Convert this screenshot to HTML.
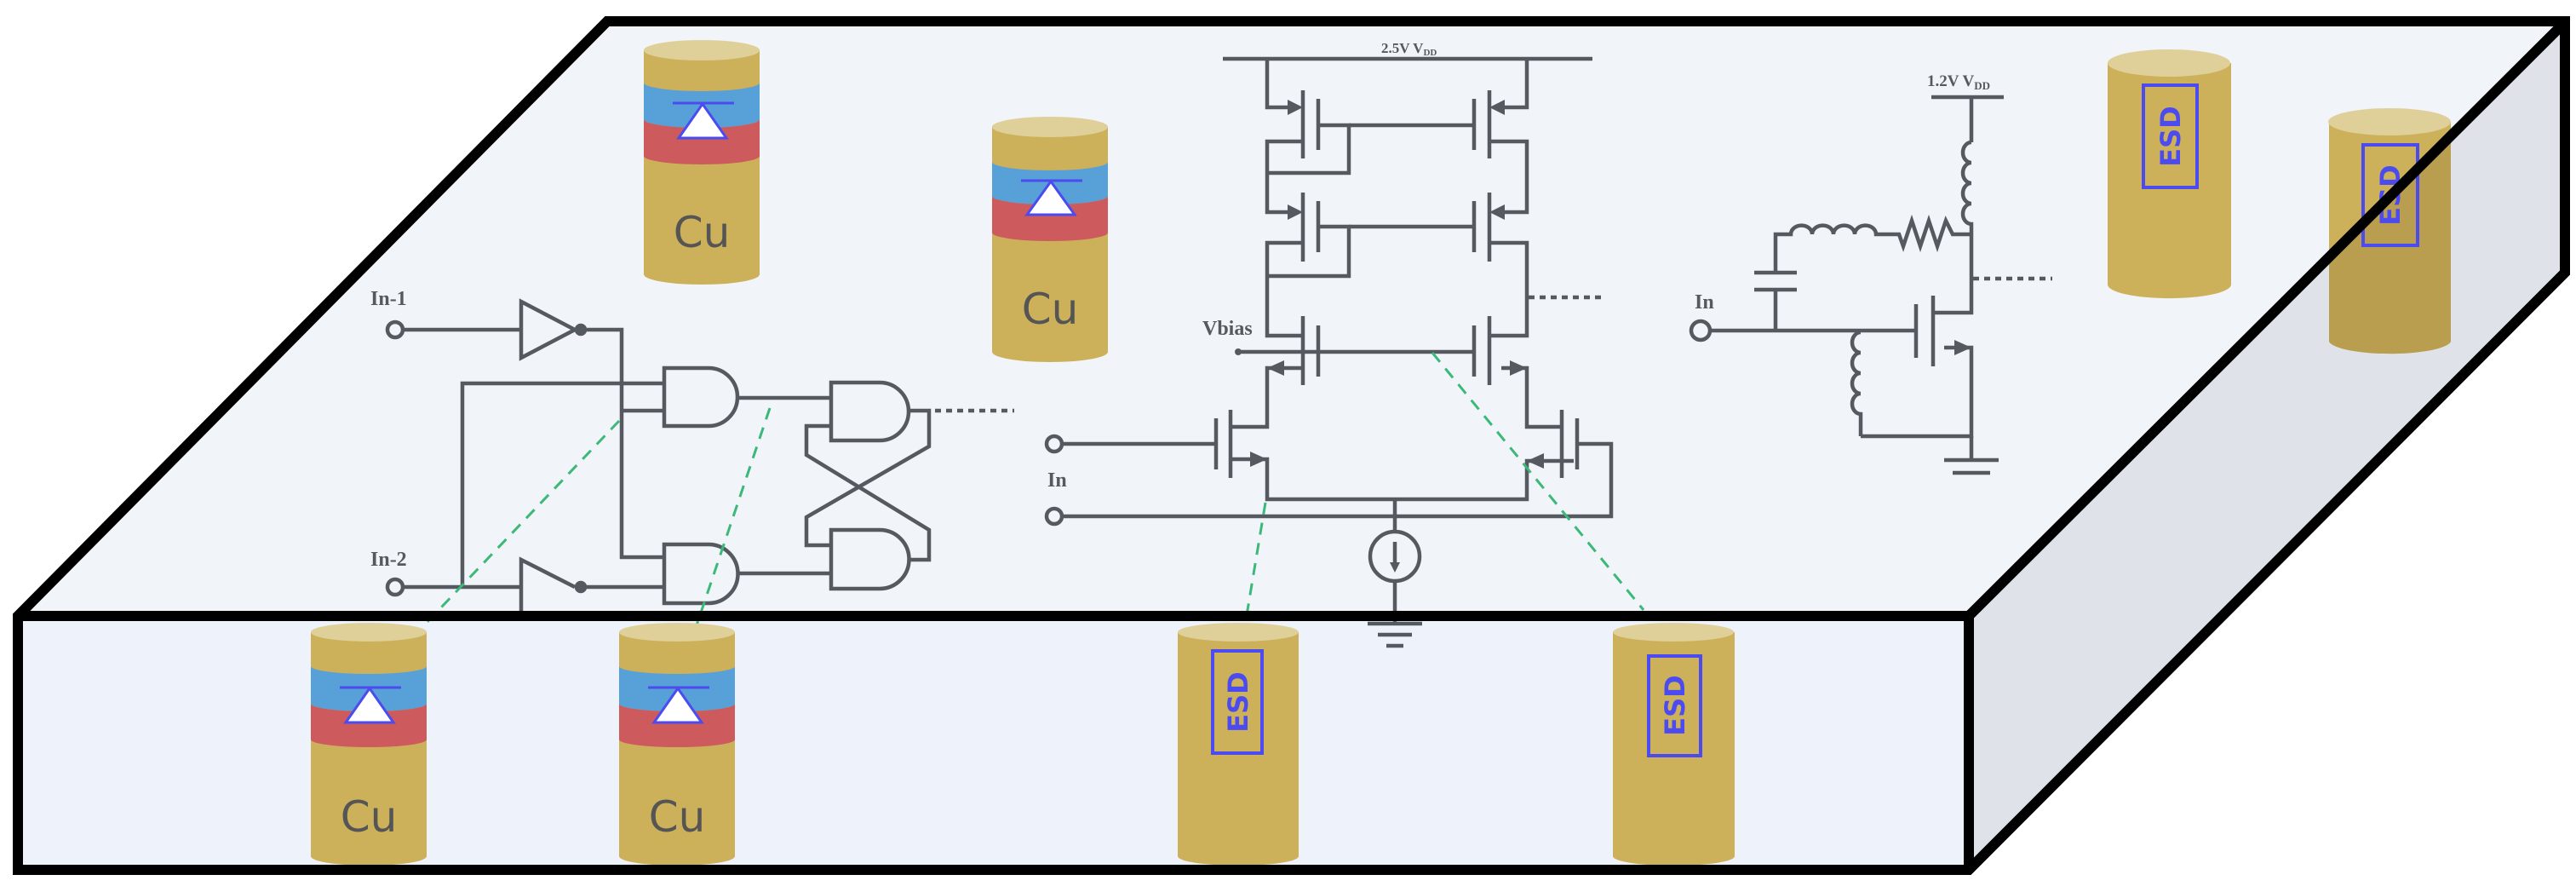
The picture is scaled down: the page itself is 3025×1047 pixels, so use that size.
<!DOCTYPE html>
<html><head><meta charset="utf-8"><style>html,body{margin:0;padding:0;background:#fff}svg{display:block}</style></head>
<body>
<svg width="3025" height="1047" viewBox="0 0 3025 1047" xmlns="http://www.w3.org/2000/svg">
<defs>
<clipPath id="side"><polygon points="3012,28 3012,320 2312,1021 2312,723"/></clipPath>
</defs>
<!-- faces -->
<polygon points="713,25 3012,25 2312,723 21,723" fill="#f1f4f9"/>
<rect x="21" y="723" width="2291" height="298" fill="#eef2fa"/>
<polygon points="3012,28 3012,320 2312,1021 2312,723" fill="#dfe2e8"/>

<g fill="none" stroke="#555a60" stroke-width="4.5" stroke-linejoin="miter">
<!-- ===== Logic circuit ===== -->
<circle cx="464" cy="387" r="9"/>
<line x1="473" y1="387" x2="612" y2="387"/>
<polygon points="612,354 612,420 675,387"/>
<circle cx="682" cy="387" r="5" fill="#555a60"/>
<polyline points="687,387 730,387 730,654 780,654"/>
<polyline points="730,482 780,482"/>
<polyline points="780,450 543,450 543,689"/>
<path d="M780,432 H832 A34,34 0 0 1 832,500 H780 Z"/>
<path d="M780,639 H832 A34.5,34.5 0 0 1 832,708 H780 Z"/>
<line x1="866" y1="467" x2="976" y2="467"/>
<line x1="866" y1="673" x2="976" y2="673"/>
<path d="M976,449 H1033 A34,34 0 0 1 1033,517 H976 Z"/>
<path d="M976,622 H1033 A34.5,34.5 0 0 1 1033,691 H976 Z"/>
<polyline points="1067,482 1091,482 1091,524 947,607 947,640 976,640"/>
<polyline points="1067,657 1091,657 1091,622 947,534 947,500 976,500"/>
<line x1="1098" y1="482" x2="1191" y2="482" stroke-dasharray="7,6"/>
<circle cx="464" cy="689" r="9"/>
<line x1="473" y1="689" x2="612" y2="689"/>
<polyline points="612,717 612,657 675,689"/>
<circle cx="682" cy="689" r="5" fill="#555a60"/>
<line x1="687" y1="689" x2="780" y2="689"/>

<!-- ===== Analog diff amp ===== -->
<line x1="1436" y1="69" x2="1870" y2="69"/>
<!-- left column -->
<polyline points="1488,69 1488,126 1518,126"/>
<line x1="1530" y1="106" x2="1530" y2="186"/>
<line x1="1548" y1="116" x2="1548" y2="176"/>
<polyline points="1530,166 1488,166 1488,249 1518,249"/>
<polyline points="1548,147 1584,147 1584,203 1488,203"/>
<line x1="1584" y1="147" x2="1731" y2="147"/>
<line x1="1530" y1="226" x2="1530" y2="307"/>
<line x1="1548" y1="236" x2="1548" y2="296"/>
<polyline points="1530,285 1488,285 1488,394 1530,394"/>
<polyline points="1548,266 1584,266 1584,324 1488,324"/>
<line x1="1584" y1="266" x2="1731" y2="266"/>
<line x1="1530" y1="371" x2="1530" y2="452"/>
<line x1="1548" y1="382" x2="1548" y2="442"/>
<line x1="1454" y1="413" x2="1731" y2="413"/>
<polyline points="1530,432 1488,432 1488,501 1445,501"/>
<!-- right column -->
<polyline points="1793,69 1793,126 1763,126"/>
<line x1="1749" y1="106" x2="1749" y2="186"/>
<line x1="1731" y1="116" x2="1731" y2="176"/>
<polyline points="1749,166 1793,166 1793,249 1763,249"/>
<line x1="1749" y1="226" x2="1749" y2="307"/>
<line x1="1731" y1="236" x2="1731" y2="296"/>
<polyline points="1749,285 1793,285 1793,394 1749,394"/>
<line x1="1749" y1="371" x2="1749" y2="452"/>
<line x1="1731" y1="382" x2="1731" y2="442"/>
<polyline points="1763,432 1793,432 1793,501 1834,501"/>
<line x1="1795" y1="349" x2="1883" y2="349" stroke-dasharray="7,6"/>
<!-- input pair -->
<line x1="1445" y1="481" x2="1445" y2="561"/>
<line x1="1428" y1="491" x2="1428" y2="551"/>
<line x1="1238" y1="521" x2="1428" y2="521"/>
<polyline points="1445,539 1488,539 1488,586 1793,586 1793,541 1848,541"/>
<line x1="1834" y1="481" x2="1834" y2="561"/>
<line x1="1852" y1="491" x2="1852" y2="551"/>
<polyline points="1852,521 1892,521 1892,606 1247,606"/>
<polyline points="1638,586 1638,624"/>
<circle cx="1638" cy="653" r="29"/>
<line x1="1638" y1="636" x2="1638" y2="668"/>
<line x1="1638" y1="682" x2="1638" y2="730"/>
<line x1="1606" y1="732" x2="1670" y2="732"/>
<line x1="1618" y1="745" x2="1658" y2="745"/>
<line x1="1628" y1="758" x2="1648" y2="758"/>
<circle cx="1238" cy="521" r="9" fill="#f1f4f9"/>
<circle cx="1238" cy="606" r="9" fill="#f1f4f9"/>

<!-- ===== LNA ===== -->
<line x1="2268" y1="114" x2="2353" y2="114"/>
<line x1="2315" y1="114" x2="2315" y2="167"/>
<path d="M2315,167 a10,12 0 0 0 0,24 a10,12 0 0 0 0,24 a10,12 0 0 0 0,24 a10,12 0 0 0 0,24 V367 H2270"/>
<path d="M2315,275 H2293 l-8,-16 l-10,30 l-10,-30 l-10,30 l-10,-30 l-10,30 l-5,-14 H2203 a12,10 0 0 0 -25,0 a12,10 0 0 0 -25,0 a12,10 0 0 0 -25,0 a12,10 0 0 0 -25,0 H2085 V320"/>
<line x1="2060" y1="320" x2="2110" y2="320"/>
<line x1="2060" y1="340" x2="2110" y2="340"/>
<line x1="2085" y1="340" x2="2085" y2="388"/>
<line x1="2008" y1="388" x2="2250" y2="388"/>
<line x1="2250" y1="357" x2="2250" y2="420"/>
<line x1="2270" y1="347" x2="2270" y2="430"/>
<polyline points="2283,408 2315,408 2315,512 2185,512"/>
<path d="M2185,390 a10,12 0 0 0 0,24 a10,12 0 0 0 0,24 a10,12 0 0 0 0,24 a10,12 0 0 0 0,24 V512"/>
<line x1="2315" y1="512" x2="2315" y2="540"/>
<line x1="2283" y1="540" x2="2347" y2="540"/>
<line x1="2293" y1="555" x2="2337" y2="555"/>
<line x1="2317" y1="327" x2="2410" y2="327" stroke-dasharray="7,6"/>
<circle cx="1997" cy="388" r="11"/>
</g>
<!-- arrowheads -->
<g fill="#555a60">
<polygon points="1530,126 1512,117 1512,135"/>
<polygon points="1530,249 1512,240 1512,258"/>
<polygon points="1749,126 1767,117 1767,135"/>
<polygon points="1749,249 1767,240 1767,258"/>
<polygon points="1488,432 1508,423 1508,441"/>
<polygon points="1793,432 1773,423 1773,441"/>
<polygon points="1488,539 1468,530 1468,548"/>
<polygon points="1793,541 1813,532 1813,550"/>
<polygon points="2315,408 2295,399 2295,417"/>
<polygon points="1638,672 1632,660 1644,660"/>
<circle cx="1454" cy="413" r="4"/>
</g>
<!-- labels -->
<g font-family="Liberation Serif, serif" font-weight="bold" fill="#555a60">
<text x="435" y="358" font-size="24">In-1</text>
<text x="435" y="664" font-size="24">In-2</text>
<text x="1412" y="393" font-size="24">Vbias</text>
<text x="1230" y="571" font-size="24">In</text>
<text x="1990" y="362" font-size="24">In</text>
<text x="1622" y="62" font-size="17">2.5V V<tspan font-size="11" dy="3">DD</tspan></text>
<text x="2263" y="101" font-size="19">1.2V V<tspan font-size="13" dy="4">DD</tspan></text>
</g>

<!-- green dashed -->
<g stroke="#3cb878" stroke-width="3" stroke-dasharray="14,10" fill="none">
<line x1="727" y1="494" x2="498" y2="734"/>
<line x1="904" y1="479" x2="818" y2="734"/>
<line x1="1486" y1="590" x2="1462" y2="734"/>
<line x1="1682" y1="414" x2="1930" y2="716"/>
</g>

<!-- cylinders -->
<g id="cyls">
<!-- Cu1 -->
<g>
<path d="M756,59 V322 A68,12 0 0 0 892,322 V59 Z" fill="#cdb05a"/>
<path d="M756,97 A68,10 0 0 0 892,97 V140 A68,10 0 0 1 756,140 Z" fill="#57a0d8"/>
<path d="M756,140 A68,10 0 0 0 892,140 V183 A68,10 0 0 1 756,183 Z" fill="#cd5a5c"/>
<ellipse cx="824" cy="59" rx="68" ry="12" fill="#dfcf98"/>
<polygon points="825,122 797,162 853,162" fill="#fff" stroke="#4b4bf0" stroke-width="3"/>
<line x1="790" y1="121" x2="862" y2="121" stroke="#4b4bf0" stroke-width="3"/>
<text x="824" y="290" font-family="DejaVu Sans, sans-serif" font-size="50" fill="#555" text-anchor="middle">Cu</text>
</g>
<!-- Cu2 -->
<g>
<path d="M1165,149 V413 A68,12 0 0 0 1301,413 V149 Z" fill="#cdb05a"/>
<path d="M1165,190 A68,10 0 0 0 1301,190 V230 A68,10 0 0 1 1165,230 Z" fill="#57a0d8"/>
<path d="M1165,230 A68,10 0 0 0 1301,230 V273 A68,10 0 0 1 1165,273 Z" fill="#cd5a5c"/>
<ellipse cx="1233" cy="149" rx="68" ry="12" fill="#dfcf98"/>
<polygon points="1234,213 1206,252 1262,252" fill="#fff" stroke="#4b4bf0" stroke-width="3"/>
<line x1="1199" y1="212" x2="1271" y2="212" stroke="#4b4bf0" stroke-width="3"/>
<text x="1233" y="380" font-family="DejaVu Sans, sans-serif" font-size="50" fill="#555" text-anchor="middle">Cu</text>
</g>
<!-- Cu3 -->
<g>
<path d="M365,742 V1005 A68,11 0 0 0 501,1005 V742 Z" fill="#cdb05a"/>
<path d="M365,782 A68,9 0 0 0 501,782 V826 A68,9 0 0 1 365,826 Z" fill="#57a0d8"/>
<path d="M365,826 A68,9 0 0 0 501,826 V868 A68,9 0 0 1 365,868 Z" fill="#cd5a5c"/>
<ellipse cx="433" cy="742" rx="68" ry="11" fill="#dfcf98"/>
<polygon points="434,808 406,848 462,848" fill="#fff" stroke="#4b4bf0" stroke-width="3"/>
<line x1="399" y1="807" x2="471" y2="807" stroke="#4b4bf0" stroke-width="3"/>
<text x="433" y="976" font-family="DejaVu Sans, sans-serif" font-size="50" fill="#555" text-anchor="middle">Cu</text>
</g>
<!-- Cu4 -->
<g>
<path d="M727,742 V1005 A68,11 0 0 0 863,1005 V742 Z" fill="#cdb05a"/>
<path d="M727,782 A68,9 0 0 0 863,782 V826 A68,9 0 0 1 727,826 Z" fill="#57a0d8"/>
<path d="M727,826 A68,9 0 0 0 863,826 V868 A68,9 0 0 1 727,868 Z" fill="#cd5a5c"/>
<ellipse cx="795" cy="742" rx="68" ry="11" fill="#dfcf98"/>
<polygon points="796,808 768,848 824,848" fill="#fff" stroke="#4b4bf0" stroke-width="3"/>
<line x1="761" y1="807" x2="833" y2="807" stroke="#4b4bf0" stroke-width="3"/>
<text x="795" y="976" font-family="DejaVu Sans, sans-serif" font-size="50" fill="#555" text-anchor="middle">Cu</text>
</g>
<!-- ESD front 1 -->
<g>
<path d="M1383,742 V1005 A71,11 0 0 0 1525,1005 V742 Z" fill="#cdb05a"/>
<ellipse cx="1454" cy="742" rx="71" ry="11" fill="#dfcf98"/>
<rect x="1424" y="764" width="58" height="120" fill="none" stroke="#4b4bf0" stroke-width="4"/>
<text transform="translate(1465,824) rotate(-90)" font-family="DejaVu Sans, sans-serif" font-weight="bold" font-size="32" fill="#4b4bf0" text-anchor="middle">ESD</text>
</g>
<!-- ESD front 2 -->
<g>
<path d="M1894,742 V1005 A71,11 0 0 0 2037,1005 V742 Z" fill="#cdb05a"/>
<ellipse cx="1965" cy="742" rx="71" ry="11" fill="#dfcf98"/>
<rect x="1936" y="770" width="61" height="117" fill="none" stroke="#4b4bf0" stroke-width="4"/>
<text transform="translate(1978,828) rotate(-90)" font-family="DejaVu Sans, sans-serif" font-weight="bold" font-size="32" fill="#4b4bf0" text-anchor="middle">ESD</text>
</g>
<!-- ESD top 1 -->
<g>
<path d="M2475,74 V334 A72,16 0 0 0 2620,334 V74 Z" fill="#cdb05a"/>
<ellipse cx="2547" cy="74" rx="72" ry="16" fill="#dfcf98"/>
<rect x="2517" y="100" width="63" height="120" fill="none" stroke="#4b4bf0" stroke-width="4"/>
<text transform="translate(2560,160) rotate(-90)" font-family="DejaVu Sans, sans-serif" font-weight="bold" font-size="32" fill="#4b4bf0" text-anchor="middle">ESD</text>
</g>
<!-- ESD top 2 -->
<g id="e4">
<path d="M2735,143 V401 A72,16 0 0 0 2878,401 V143 Z" fill="#cdb05a"/>
<ellipse cx="2806" cy="143" rx="72" ry="16" fill="#dfcf98"/>
</g>
<g clip-path="url(#side)">
<path d="M2735,143 V401 A72,16 0 0 0 2878,401 V143 Z" fill="#b89e4e"/>
<ellipse cx="2806" cy="143" rx="72" ry="16" fill="#c9b574"/>
</g>
<rect x="2775" y="170" width="64" height="118" fill="none" stroke="#4b4bf0" stroke-width="4"/>
<text transform="translate(2818,229) rotate(-90)" font-family="DejaVu Sans, sans-serif" font-weight="bold" font-size="32" fill="#4b4bf0" text-anchor="middle">ESD</text>
</g>

<!-- edges -->
<g stroke="#000" stroke-width="12" fill="none" stroke-linejoin="miter">
<polygon points="713,25 3012,25 3012,320 2312,1021 21,1021 21,723"/>
<line x1="21" y1="723" x2="2312" y2="723"/>
<line x1="2312" y1="723" x2="2312" y2="1021"/>
<line x1="3008" y1="30" x2="2312" y2="723"/>
</g>
</svg>
</body></html>
